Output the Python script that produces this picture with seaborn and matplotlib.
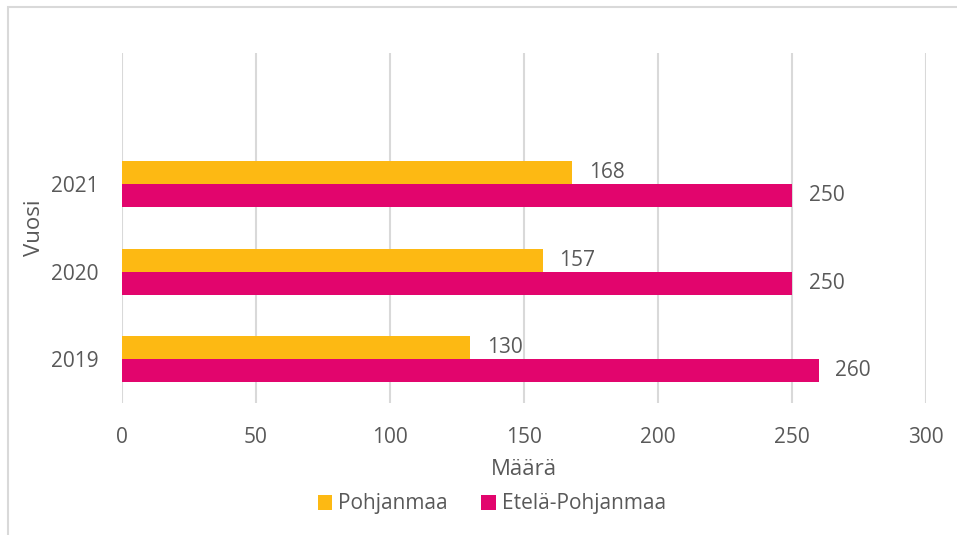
import matplotlib
matplotlib.use("Agg")
import matplotlib.pyplot as plt
import seaborn as sns
import pandas as pd
from matplotlib.patches import Patch, Rectangle

years = ["2021", "2020", "2019"]
series = ["Pohjanmaa", "Etelä-Pohjanmaa"]
pohjanmaa = [168, 157, 130]
etela_pohjanmaa = [250, 250, 260]
x_ticks = [0, 50, 100, 150, 200, 250, 300]
colors = ["#FDB913", "#E2056D"]

df = pd.DataFrame({
    "Vuosi": years * 2,
    "Sarja": [series[0]] * 3 + [series[1]] * 3,
    "Määrä": pohjanmaa + etela_pohjanmaa,
})

sns.set_theme(style="white")
plt.rcParams["font.family"] = ["Open Sans", "DejaVu Sans"]
text_color = "#595959"

fig = plt.figure(figsize=(9.57, 5.35), dpi=100)
ax = fig.add_axes([0.1275, 0.2467, 0.9676 - 0.1275, 0.9009 - 0.2467])

sns.barplot(data=df, y="Vuosi", x="Määrä", hue="Sarja", order=years,
            hue_order=series, palette=colors, orient="h", width=0.526,
            gap=0, saturation=1, ax=ax, legend=False, errorbar=None,
            linewidth=0, edgecolor="none")

for cont in ax.containers:
    ax.bar_label(cont, labels=[f"{int(v)}" for v in cont.datavalues],
                 padding=12, fontsize=15, color=text_color)

ax.set_xlim(0, 300)
ax.set_ylim(2.5, -1.5)
ax.set_xticks(x_ticks)
ax.xaxis.grid(True, color="#D9D9D9", linewidth=1.5)
ax.set_axisbelow(True)
for s in ax.spines.values():
    s.set_visible(False)
ax.tick_params(axis="both", length=0, labelsize=15, labelcolor=text_color)
ax.tick_params(axis="x", pad=17)
ax.tick_params(axis="y", pad=17)
ax.set_xlabel("Määrä", fontsize=16, color=text_color, labelpad=8)
ax.set_ylabel("Vuosi", fontsize=16, color=text_color, labelpad=4)

handles = [Patch(facecolor=c, edgecolor="none", label=l) for c, l in zip(colors, series)]
leg = fig.legend(handles=handles, loc="center", bbox_to_anchor=(492 / 957, 1 - 504 / 535),
                 ncol=2, frameon=False, fontsize=15, handlelength=0.7,
                 handleheight=0.7, handletextpad=0.3, columnspacing=1.6)
for t in leg.get_texts():
    t.set_color(text_color)

fig.add_artist(Rectangle((8 / 957, -0.1), 1.2, 1 - 7 / 535 + 0.1, transform=fig.transFigure,
                         fill=False, edgecolor="#D9D9D9", linewidth=1.5))

fig.savefig("out.png", dpi=100)
